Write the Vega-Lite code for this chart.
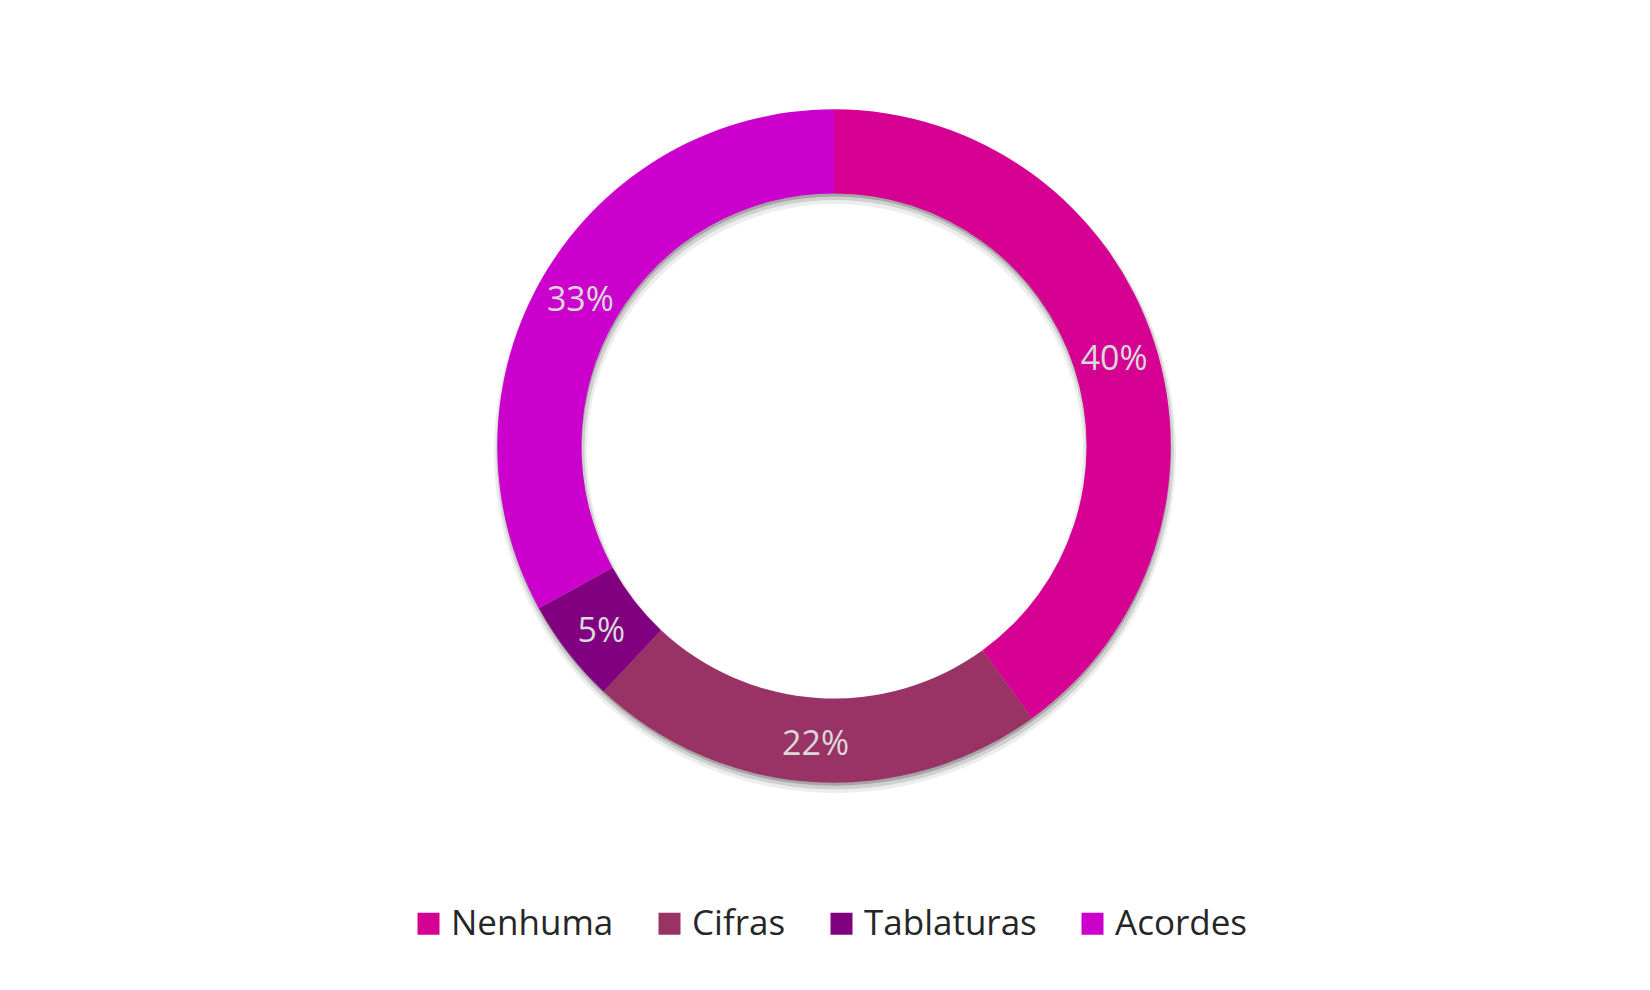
{
  "$schema": "https://vega.github.io/schema/vega-lite/v6.json",
  "width": 1632,
  "height": 892,
  "autosize": {"type": "none"},
  "padding": {"left": 18, "top": 0, "right": 0, "bottom": 98},
  "background": "white",
  "data": {
    "values": [
      {"category": "Nenhuma", "value": 40, "label": "40%", "ord": 1},
      {"category": "Cifras", "value": 22, "label": "22%", "ord": 2},
      {"category": "Tablaturas", "value": 5, "label": "5%", "ord": 3},
      {"category": "Acordes", "value": 33, "label": "33%", "ord": 4}
    ]
  },
  "layer": [
    {
      "transform": [{"filter": "datum.ord == 1"}],
      "mark": {"type": "arc", "theta": 0, "theta2": 6.2832, "innerRadius": 248, "outerRadius": 341, "color": "#000000", "opacity": 0.07, "yOffset": 6, "xOffset": 1},
      "encoding": {}
    },
    {
      "transform": [{"filter": "datum.ord == 1"}],
      "mark": {"type": "arc", "theta": 0, "theta2": 6.2832, "innerRadius": 250.5, "outerRadius": 338.8, "color": "#000000", "opacity": 0.12, "yOffset": 4.5, "xOffset": 1},
      "encoding": {}
    },
    {
      "transform": [{"filter": "datum.ord == 1"}],
      "mark": {"type": "arc", "theta": 0, "theta2": 6.2832, "innerRadius": 252.6, "outerRadius": 336.7, "color": "#000000", "opacity": 0.2, "yOffset": 3, "xOffset": 0.5},
      "encoding": {}
    },
    {
      "mark": {"type": "arc", "innerRadius": 252.6, "outerRadius": 336.7},
      "encoding": {
        "theta": {"field": "value", "type": "quantitative", "stack": true},
        "order": {"field": "ord", "type": "quantitative"},
        "color": {
          "field": "category",
          "type": "nominal",
          "sort": ["Nenhuma", "Cifras", "Tablaturas", "Acordes"],
          "scale": {
            "domain": ["Nenhuma", "Cifras", "Tablaturas", "Acordes"],
            "range": ["#D60093", "#993366", "#800080", "#CC00CC"]
          },
          "legend": {
            "title": null,
            "orient": "none",
            "legendX": 393,
            "legendY": 906,
            "direction": "horizontal",
            "columns": 4,
            "symbolType": "square",
            "symbolSize": 484,
            "symbolStrokeWidth": 0,
            "labelFontSize": 35,
            "labelFont": "Open Sans",
            "labelColor": "#262626",
            "labelOffset": 5,
            "labelLimit": 500,
            "columnPadding": 38
          }
        }
      }
    },
    {
      "mark": {"type": "text", "radius": 294.6, "fontSize": 34, "font": "Open Sans", "fill": "#D9D9D9", "align": "center", "baseline": "middle", "dy": 5},
      "encoding": {
        "theta": {"field": "value", "type": "quantitative", "stack": true},
        "order": {"field": "ord", "type": "quantitative"},
        "text": {"field": "label", "type": "nominal"}
      }
    }
  ],
  "config": {"view": {"stroke": null}}
}
